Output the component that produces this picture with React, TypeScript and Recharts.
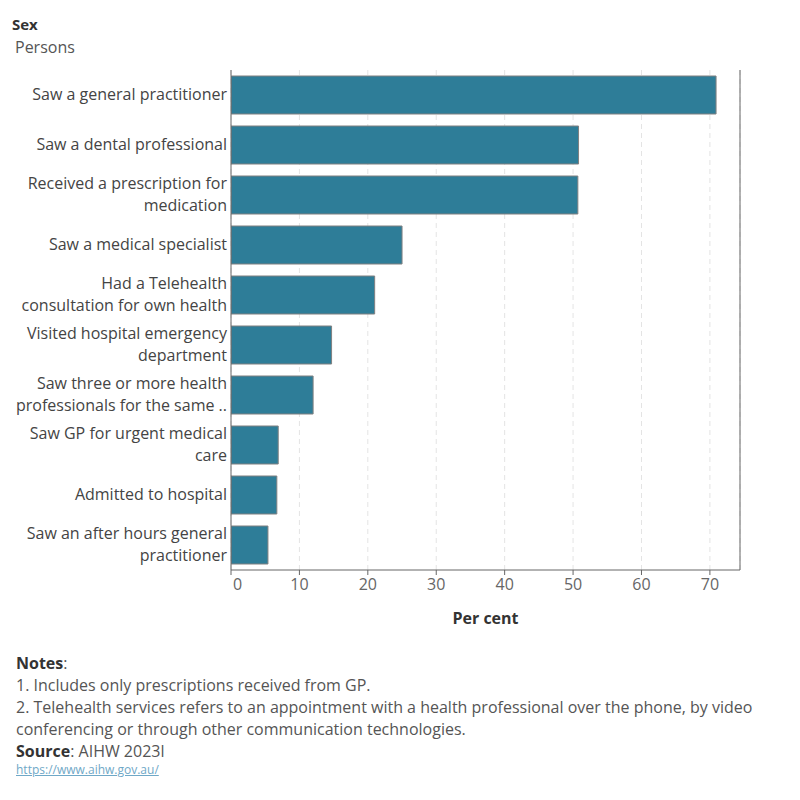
import React from 'react';
import {
  BarChart,
  Bar,
  XAxis,
  YAxis,
  CartesianGrid,
  ReferenceLine,
} from 'recharts';

// Service use, persons, per cent
const categories = [
  'Saw a general practitioner',
  'Saw a dental professional',
  'Received a prescription for\nmedication',
  'Saw a medical specialist',
  'Had a Telehealth\nconsultation for own health',
  'Visited hospital emergency\ndepartment',
  'Saw three or more health\nprofessionals for the same ..',
  'Saw GP for urgent medical\ncare',
  'Admitted to hospital',
  'Saw an after hours general\npractitioner',
];
const perCent = [70.9, 50.8, 50.7, 25.0, 21.0, 14.7, 12.0, 6.9, 6.7, 5.4];
const xTicks = [0, 10, 20, 30, 40, 50, 60, 70];
const xMax = 74.4;

const notes = [
  '1. Includes only prescriptions received from GP.',
  '2. Telehealth services refers to an appointment with a health professional over the phone, by video',
  'conferencing or through other communication technologies.',
];

const data = categories.map((name, i) => ({ name, value: perCent[i] }));

const FONT = '"Open Sans", "Noto Sans", sans-serif';
const FS = 16;
const BAR_COLOR = '#2e7d98';

// category labels, right aligned, split on \n
const CategoryTick = ({ x, y, payload }: any) => {
  const lines: string[] = String(payload.value).split('\n');
  const lineH = 22;
  const start = -((lines.length - 1) * lineH) / 2;
  return (
    <text x={x + 4} y={y} textAnchor="end" fontFamily={FONT} fontSize={FS} fill="#444">
      {lines.map((l, i) => (
        <tspan key={i} x={x + 4} dy={i === 0 ? start + 5 : lineH}>
          {l}
        </tspan>
      ))}
    </text>
  );
};

// value ticks; the first one sits just inside the axis
const ValueTick = ({ x, y, payload }: any) => (
  <text
    x={payload.value === 0 ? x + 2 : x}
    y={y}
    dy="0.71em"
    textAnchor={payload.value === 0 ? 'start' : 'middle'}
    fontFamily={FONT}
    fontSize={FS}
    fill="#666"
  >
    {payload.value}
  </text>
);

export default function App() {
  return (
    <div
      style={{
        position: 'absolute',
        left: 0,
        top: 0,
        width: 800,
        height: 800,
        background: '#fff',
        fontFamily: FONT,
      }}
    >
      <div style={{ position: 'absolute', left: 12, top: 14, fontSize: 15, fontWeight: 700, color: '#333' }}>
        Sex
      </div>
      <div style={{ position: 'absolute', left: 15, top: 36, fontSize: FS, color: '#555' }}>
        Persons
      </div>

      <div style={{ position: 'absolute', left: 0, top: 0 }}>
        <BarChart
          width={800}
          height={640}
          data={data}
          layout="vertical"
          barCategoryGap={6}
          margin={{ top: 70, right: 60, bottom: 10, left: 0 }}
        >
          <CartesianGrid horizontal={false} stroke="#e4e4e4" strokeDasharray="5 4" />
          <XAxis
            type="number"
            domain={[0, xMax]}
            ticks={xTicks}
            allowDataOverflow
            height={60}
            stroke="#666"
            tickSize={5}
            tickMargin={4}
            tick={<ValueTick />}
            label={{
              value: 'Per cent',
              position: 'insideBottom',
              offset: 6,
              style: { fontSize: FS, fontWeight: 700, fill: '#333', fontFamily: FONT },
            }}
          />
          <YAxis
            type="category"
            dataKey="name"
            width={231}
            stroke="#666"
            tickLine={false}
            interval={0}
            tick={<CategoryTick />}
          />
          <ReferenceLine x={xMax} stroke="#666" />
          <Bar
            dataKey="value"
            fill={BAR_COLOR}
            stroke="#808080"
            strokeWidth={1}
            isAnimationActive={false}
          />
        </BarChart>
      </div>

      <div
        style={{
          position: 'absolute',
          left: 16,
          top: 652,
          fontSize: FS,
          lineHeight: '22px',
          color: '#555',
        }}
      >
        <div>
          <span style={{ fontWeight: 700, color: '#333' }}>Notes</span>:
        </div>
        {notes.map((n) => (
          <div key={n} style={{ whiteSpace: 'nowrap' }}>{n}</div>
        ))}
        <div>
          <span style={{ fontWeight: 700, color: '#333' }}>Source</span>: AIHW 2023l
        </div>
        <div style={{ fontSize: 12, lineHeight: '16px', color: '#6fa8c7', textDecoration: 'underline' }}>
          https://www.aihw.gov.au/
        </div>
      </div>
    </div>
  );
}
